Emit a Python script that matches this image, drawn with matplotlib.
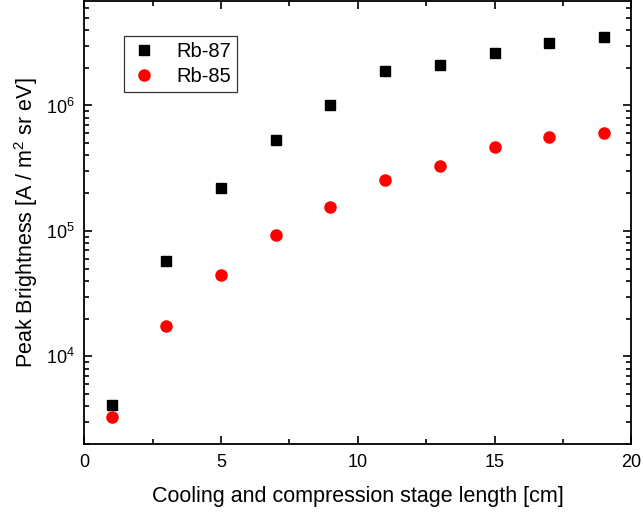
import matplotlib
matplotlib.use("Agg")
import matplotlib.pyplot as plt
from matplotlib.ticker import LogLocator, MultipleLocator, LogFormatterMathtext, NullFormatter

plt.rcParams['font.family'] = ['Liberation Sans', 'DejaVu Sans']
plt.rcParams['mathtext.fontset'] = 'custom'
plt.rcParams['mathtext.rm'] = 'Liberation Sans'
plt.rcParams['mathtext.it'] = 'Liberation Sans:italic'
plt.rcParams['mathtext.bf'] = 'Liberation Sans:bold'

x = [1, 3, 5, 7, 9, 11, 13, 15, 17, 19]
rb87 = [4.07e3, 5.74e4, 2.21e5, 5.31e5, 1.0e6, 1.88e6, 2.11e6, 2.63e6, 3.12e6, 3.52e6]
rb85 = [3.29e3, 1.75e4, 4.49e4, 9.35e4, 1.55e5, 2.55e5, 3.31e5, 4.65e5, 5.56e5, 6.05e5]

fig = plt.figure(figsize=(6.43, 5.17), dpi=100)
ax = fig.add_axes([0.131, 0.141, 0.851, 0.857])

ax.plot(x, rb87, linestyle='none', marker='s', markersize=7.5, color='black', label='Rb-87')
ax.plot(x, rb85, linestyle='none', marker='o', markersize=8, color='#ff0000', label='Rb-85')

ax.set_yscale('log')
ax.set_xlim(0, 20)
ax.set_ylim(2.0e3, 6.8e6)
ax.xaxis.set_major_locator(MultipleLocator(5))
ax.xaxis.set_minor_locator(MultipleLocator(2.5))
ax.yaxis.set_major_locator(LogLocator(base=10))
ax.yaxis.set_minor_locator(LogLocator(base=10, subs=range(2, 10)))
ax.yaxis.set_major_formatter(LogFormatterMathtext())
ax.yaxis.set_minor_formatter(NullFormatter())

ax.tick_params(which='both', direction='in', top=True, right=True, width=1.2, labelsize=13)
ax.tick_params(which='major', length=6, pad=7)
ax.tick_params(which='minor', length=3.5)
for s in ax.spines.values():
    s.set_linewidth(1.3)

ax.set_xlabel('Cooling and compression stage length [cm]', fontsize=15.5, labelpad=11)
ax.set_ylabel('Peak Brightness [A / m$^2$ sr eV]', fontsize=15.5, labelpad=4)

leg = ax.legend(loc='upper left', bbox_to_anchor=(0.072, 0.921), fontsize=14.5, frameon=True,
                fancybox=False, edgecolor='black', handletextpad=0.9, borderpad=0.3,
                labelspacing=0.3, handlelength=1.4, borderaxespad=0)
leg.get_frame().set_linewidth(0.9)

fig.savefig('out.png', dpi=100)
